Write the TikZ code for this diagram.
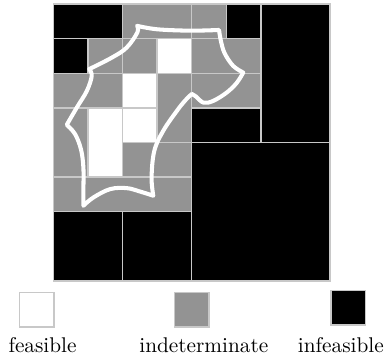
\documentclass[tikz,border=0pt]{standalone}
\usepackage{tikz}
\usetikzlibrary{calc}
\usepackage{xcolor}
\definecolor{linegray}{HTML}{C8C8C8}
\definecolor{midgray}{HTML}{939393}

\begin{document}
\begin{tikzpicture}[
    x=0.6cm, y=0.6cm,
    cell/.style={draw=linegray, line width=0.7pt},
    legendbox/.style={cell, rectangle, minimum size=0.6cm, inner sep=0pt},
    legendlabel/.style={anchor=base, inner sep=0pt, font=\fontsize{10.5}{12}\selectfont},
    outline/.style={draw=white, line width=2pt, line join=round, line cap=round},
]
\useasboundingbox (-1.54,-2.116) rectangle (9.615,8.116);

% --- cells: x/y/width/height/fill ---
\foreach \cx/\cy/\cw/\ch/\cc in {
    0/7/2/1/black, 2/7/2/1/midgray, 4/7/1/1/midgray, 5/7/1/1/black, 6/4/2/4/black,
    0/6/1/1/black, 1/6/1/1/midgray, 2/6/1/1/midgray, 3/6/1/1/white, 4/6/2/1/midgray,
    0/5/2/1/midgray, 2/5/1/1/white, 3/4/1/2/midgray, 4/5/2/1/midgray,
    0/3/1/2/midgray, 1/3/1/2/white, 2/4/1/1/white, 4/4/2/1/black,
    2/3/2/1/midgray, 4/0/4/4/black,
    0/2/4/1/midgray,
    0/0/2/2/black, 2/0/2/2/black}
  \draw[cell, fill=\cc] (\cx,\cy) rectangle ++(\cw,\ch);

% --- feasible region boundary ---
\draw[outline]
  plot[smooth, tension=0.6] coordinates {(2.42,7.37) (3.00,7.27) (3.95,7.23) (4.79,7.25)}
  -- plot[smooth, tension=0.6] coordinates {(4.79,7.25) (4.84,6.95) (4.95,6.58) (5.20,6.21) (5.49,6.02)}
  -- plot[smooth, tension=0.6] coordinates {(5.49,6.02) (5.30,5.72) (5.01,5.44) (4.62,5.20) (4.34,5.15) (4.12,5.33) (4.00,5.40)}
  -- plot[smooth, tension=0.6] coordinates {(4.00,5.40) (3.80,5.20) (3.57,4.91) (3.18,4.34) (2.92,3.76) (2.84,2.99) (2.89,2.46)}
  -- plot[smooth, tension=0.6] coordinates {(2.89,2.46) (2.51,2.58) (2.12,2.68) (1.64,2.65) (1.16,2.41) (0.87,2.17)}
  -- plot[smooth, tension=0.6] coordinates {(0.87,2.17) (0.87,2.60) (0.87,3.27) (0.80,3.80) (0.63,4.24) (0.39,4.51)}
  -- plot[smooth, tension=0.6] coordinates {(0.39,4.51) (0.68,5.01) (0.97,5.49) (1.11,5.92) (1.04,6.12)}
  -- plot[smooth, tension=0.6] coordinates {(1.04,6.12) (1.69,6.45) (2.12,6.74) (2.43,7.18) (2.42,7.37)}
  -- cycle;

% --- legend ---
\node[legendbox, fill=white] (feasiblebox) at (-0.477,-0.83) {};
\node[legendbox, fill=midgray] (indetbox) at (4.0,-0.83) {};
\node[legendbox, fill=black] (infeasiblebox) at (8.52,-0.78) {};

\node[legendlabel] (feasiblelabel) at (-0.31,-2.08) {feasible};
\node[legendlabel] (indetlabel) at (4.35,-2.08) {indeterminate};
\node[legendlabel] (infeasiblelabel) at (8.31,-2.08) {infeasible};
\end{tikzpicture}
\end{document}
